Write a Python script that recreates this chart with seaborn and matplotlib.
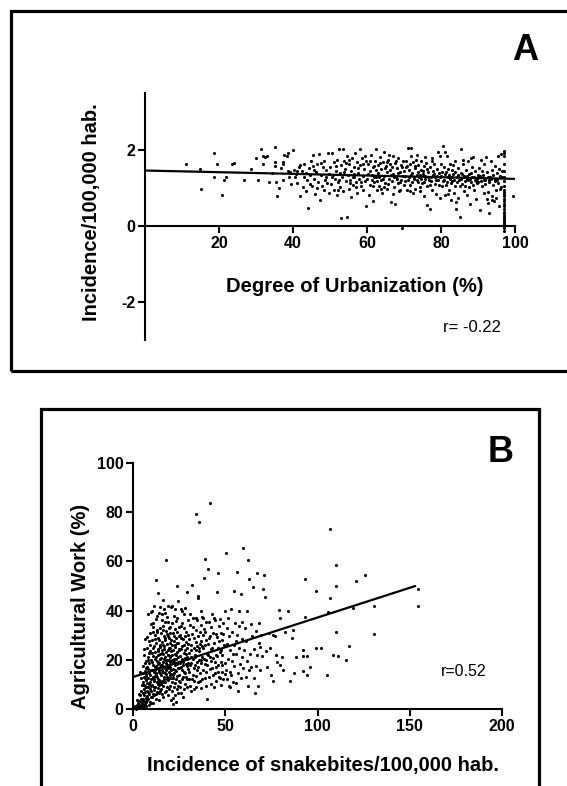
import matplotlib
matplotlib.use("Agg")
import matplotlib.pyplot as plt
from matplotlib.patches import Rectangle
import seaborn as sns
import pandas as pd

# ---------------- Panel A data: urbanization (%) vs incidence ----------------
urb_10_30 = [(11.1,1.62),(14.9,1.50),(15.2,0.97),(18.7,1.91),(19.4,1.64),(18.7,1.28),(20.9,0.81),
             (21.4,1.20),(22.0,1.28),(23.4,1.63),(24.1,1.65),(26.7,1.22),(28.6,1.50),(29.9,1.79)]
urb_30_40 = [(30.6,1.22),(31.4,2.03),(31.8,1.85),(32.4,1.82),(31.9,1.62),(32.9,1.85),(35.1,2.08),(35.0,1.68),
             (35.1,1.59),(35.3,1.17),(35.8,0.79),(36.2,0.99),(37.2,1.68),(37.2,1.62),(37.7,1.88),(38.3,1.84),
             (38.7,1.92),(39.9,1.99),(37.4,1.22),(38.6,1.45),(39.2,1.42),(39.5,1.10),(38.9,1.30),(36.8,1.52),
             (33.5,1.15),(34.2,1.40)]
urb_40_50 = [(40.3,1.48),(40.8,1.38),(41.2,1.12),(41.5,1.55),(41.9,0.78),(42.3,1.45),(42.6,1.02),(42.9,1.30),
             (43.1,1.62),(43.4,0.92),(43.8,1.20),(44.0,0.47),(44.2,1.52),(44.5,1.35),(44.8,1.70),(45.0,1.05),
             (45.3,1.88),(45.5,1.58),(45.8,1.25),(46.0,0.85),(46.3,1.42),(46.5,1.62),(46.8,1.15),(47.0,1.90),
             (47.2,0.68),(47.5,1.35),(47.8,1.05),(48.0,1.55),(48.3,0.95),(48.5,1.72),(48.8,1.28),(49.0,1.48),
             (49.2,1.12),(49.5,1.92),(49.8,0.88),(42.0,1.60),(43.5,1.40),(45.6,1.48),(46.6,1.00),(48.6,1.20),
             (40.5,1.28),(44.6,1.10),(47.6,1.65),(49.6,1.38),(41.0,1.45)]
urb_50_60 = [(50.1,1.55),(50.3,1.10),(50.5,1.92),(50.8,1.35),(51.0,0.95),(51.2,1.68),(51.4,1.25),(51.6,1.45),
             (51.8,0.82),(52.0,1.75),(52.2,1.15),(52.4,2.03),(52.6,1.40),(52.8,1.02),(53.0,0.22),(53.1,1.60),
             (53.3,1.28),(53.5,2.02),(53.6,0.92),(53.8,1.72),(54.0,1.50),(54.2,1.18),(54.5,0.23),(54.6,1.85),
             (54.8,1.35),(55.0,0.98),(55.2,1.62),(55.4,1.22),(55.6,0.76),(55.8,1.45),(56.0,1.80),(56.2,1.08),
             (56.4,1.55),(56.6,1.30),(56.8,1.92),(57.0,1.15),(57.2,1.68),(57.4,0.88),(57.6,1.40),(57.8,1.25),
             (58.0,2.02),(58.2,1.60),(58.4,1.05),(58.6,1.78),(58.8,1.32),(59.0,0.95),(59.2,1.50),(59.4,1.18),
             (59.6,0.52),(59.8,1.70),(50.6,1.30),(51.5,1.58),(52.5,1.22),(53.7,1.42),(54.4,1.65),(55.5,1.12),
             (56.5,1.38),(57.5,1.52),(58.5,1.15),(59.5,1.85),(55.1,1.75),(57.1,1.02),(52.1,0.95),(58.9,1.62),
             (56.1,1.28)]
urb_60_70 = [(60.1,1.25),(60.3,1.62),(60.5,0.82),(60.7,1.45),(60.9,1.08),(61.1,1.88),(61.3,1.35),(61.5,0.65),
             (61.7,1.55),(61.9,1.15),(62.1,1.72),(62.3,2.02),(62.5,1.28),(62.7,0.95),(62.9,1.60),(63.1,1.40),
             (63.3,1.05),(63.5,1.82),(63.7,1.22),(63.9,1.50),(64.1,0.88),(64.3,1.68),(64.5,1.32),(64.7,1.95),
             (64.9,1.12),(65.1,1.58),(65.3,1.42),(65.5,0.98),(65.7,1.75),(65.9,1.25),(66.1,1.48),(66.3,1.62),
             (66.5,0.62),(66.7,1.18),(66.9,1.85),(67.1,1.38),(67.3,1.02),(67.5,1.65),(67.7,0.58),(67.9,1.30),
             (68.1,1.52),(68.3,1.12),(68.5,1.78),(68.7,0.92),(68.9,1.42),(69.1,1.60),(69.3,1.20),(69.5,-0.05),
             (69.7,1.70),(69.9,1.08),(60.2,1.38),(60.8,1.70),(61.4,1.22),(61.8,1.30),(62.4,1.48),(62.8,1.18),
             (63.4,1.65),(63.8,0.98),(64.4,1.25),(64.8,1.52),(65.4,1.68),(65.8,1.10),(66.4,1.35),(66.8,1.55),
             (67.4,1.28),(67.8,1.72),(68.4,1.40),(68.8,1.15),(69.4,1.55),(69.8,1.32),(61.6,1.05),(63.2,1.28),
             (64.6,1.02),(66.0,1.88),(67.0,0.85),(68.0,1.25),(69.0,0.95),(62.0,1.58)]
urb_70_80 = [(70.1,1.45),(70.3,1.18),(70.5,1.72),(70.7,0.95),(70.9,1.58),(71.1,2.05),(71.3,1.30),(71.5,1.62),
             (71.7,1.08),(71.9,2.05),(72.1,1.40),(72.3,0.88),(72.5,1.68),(72.7,1.25),(72.9,1.52),(73.1,0.98),
             (73.3,1.75),(73.5,1.35),(73.7,1.15),(73.9,1.60),(74.1,1.28),(74.3,0.92),(74.5,1.48),(74.7,1.70),
             (74.9,1.12),(75.1,1.38),(75.3,1.58),(75.5,0.78),(75.7,1.25),(75.9,1.65),(76.1,1.05),(76.3,0.55),
             (76.5,1.42),(76.7,1.22),(76.9,0.45),(77.1,1.55),(77.3,1.18),(77.5,1.72),(77.7,0.95),(77.9,1.35),
             (78.1,1.62),(78.3,1.10),(78.5,1.28),(78.7,0.85),(78.9,1.50),(79.1,1.95),(79.3,1.22),(79.5,1.40),
             (79.7,0.75),(79.9,1.62),(70.2,1.32),(70.6,1.55),(71.0,1.20),(71.4,1.48),(71.8,1.35),(72.2,1.15),
             (72.6,1.30),(73.0,1.58),(73.4,1.22),(73.8,1.42),(74.2,1.35),(74.6,1.25),(75.0,1.45),(75.4,1.15),
             (75.8,1.32),(76.2,1.50),(76.6,1.30),(77.0,1.08),(77.4,1.28),(77.8,1.45),(78.2,1.38),(78.6,1.20),
             (79.0,1.32),(79.4,1.08),(79.8,1.28),(72.0,1.85),(73.6,1.88),(75.6,1.82),(77.6,1.78),(79.6,1.85),
             (71.6,0.92),(74.4,1.02)]
urb_80_90 = [(80.1,1.32),(80.3,1.05),(80.5,2.10),(80.7,1.55),(80.9,1.22),(81.1,0.82),(81.3,1.42),(81.5,1.85),
             (81.7,1.15),(81.9,1.30),(82.1,0.95),(82.3,1.62),(82.5,1.25),(82.7,0.68),(82.9,1.48),(83.1,1.18),
             (83.3,1.38),(83.5,0.88),(83.7,1.70),(83.9,1.05),(84.1,0.45),(84.3,1.28),(84.5,1.52),(84.7,0.75),
             (84.9,1.20),(85.1,0.25),(85.3,1.40),(85.5,2.02),(85.7,1.10),(85.9,1.62),(86.1,0.92),(86.3,1.32),
             (86.5,1.18),(86.7,1.48),(86.9,0.82),(87.1,1.25),(87.3,1.72),(87.5,1.02),(87.7,1.38),(87.9,0.58),
             (88.1,1.15),(88.3,1.55),(88.5,1.28),(88.7,1.82),(88.9,0.95),(89.1,1.22),(89.3,1.45),(89.5,0.70),
             (89.7,1.12),(89.9,1.35),(80.2,1.42),(80.6,1.18),(81.0,1.38),(81.4,1.08),(81.8,1.50),(82.2,1.35),
             (82.6,1.12),(83.0,1.30),(83.4,1.22),(83.8,1.42),(84.2,1.15),(84.6,1.35),(85.0,1.05),(85.4,1.25),
             (85.8,1.38),(86.2,1.28),(86.6,1.05),(87.0,1.32),(87.4,1.20),(87.8,1.25),(88.2,1.40),(88.6,1.08),
             (89.0,1.30),(89.4,1.18),(89.8,1.25),(81.2,1.95),(83.2,1.60),(86.0,1.75),(88.0,1.78),(84.0,0.62),
             (82.0,0.85)]
urb_90_100 = [(90.1,1.28),(90.3,1.52),(90.5,0.42),(90.7,1.18),(90.9,1.75),(91.1,1.05),(91.3,1.35),(91.5,0.88),
              (91.7,1.62),(91.9,1.22),(92.1,1.82),(92.3,0.72),(92.5,1.42),(92.7,0.60),(92.9,1.15),(93.1,0.35),
              (93.3,1.30),(93.5,1.70),(93.7,0.80),(93.9,1.48),(94.1,1.08),(94.3,0.65),(94.5,1.25),(94.7,1.58),
              (94.9,0.95),(95.1,1.40),(95.3,1.85),(95.5,1.12),(95.7,0.52),(95.9,1.32),(96.1,1.90),(96.3,1.02),
              (96.5,1.45),(96.0,0.98),(95.0,1.20),(94.0,1.35),(93.0,1.22),(92.0,1.10),(91.0,1.45),(90.0,1.15),
              (90.6,1.32),(91.6,1.20),(92.6,1.30),(93.6,1.25),(94.6,1.18),(95.6,1.50),(96.4,1.28),(92.8,0.90),
              (93.8,0.68),(94.8,0.75),(99.4,0.80)]
urb_col_97 = [(97.0,1.98),(96.9,1.92),(97.1,1.85),(97.0,1.62),(96.9,1.45),(97.0,1.30),(97.1,1.18),(97.0,1.05),
              (96.9,0.95),(97.0,0.90),(97.1,0.85),(97.0,0.78),(96.9,0.72),(97.0,0.65),(97.1,0.58),(97.0,0.52),
              (96.9,0.45),(97.0,0.38),(97.1,0.32),(97.0,0.27),(96.9,0.22),(97.0,0.18),(97.1,0.12),(97.0,0.08),
              (96.9,0.04),(97.0,0.00),(97.1,-0.05),(97.0,-0.14)]
# fitted line (start / end)
fit_a_x = [0, 100]
fit_a_y = [1.46, 1.24]

# ---------------- Panel B data: incidence vs agricultural work (%) ----------------
sb_00_05 = [(0.8,0.3),(1.2,0.8),(1.5,0.2),(1.9,1.5),(2.2,0.6),(2.5,2.4),(2.8,1.1),(3.0,0.4),(3.2,3.2),(3.5,1.8),
            (3.7,5.5),(3.9,0.9),(4.1,2.7),(4.3,7.2),(4.5,1.4),(4.6,4.1),(4.8,9.8),(4.9,3.0),(2.0,3.8),(3.4,6.0),
            (4.4,12.5),(4.0,15.0),(2.6,1.8),(1.0,1.2),(4.7,0.6)]
sb_05_10 = [(5.1,2.2),(5.2,6.5),(5.3,11.0),(5.4,0.8),(5.5,4.0),(5.6,17.5),(5.7,8.2),(5.8,1.5),(5.9,13.0),(6.0,3.3),
            (6.1,22.0),(6.2,5.6),(6.3,9.5),(6.4,2.0),(6.5,15.5),(6.6,7.0),(6.7,28.5),(6.8,4.5),(6.9,11.8),(7.0,19.5),
            (7.1,2.8),(7.2,8.8),(7.3,14.2),(7.4,5.2),(7.5,25.0),(7.6,10.5),(7.7,3.5),(7.8,17.0),(7.9,6.8),(8.0,38.5),
            (8.1,12.5),(8.2,4.0),(8.3,21.0),(8.4,9.0),(8.5,27.5),(8.6,1.8),(8.7,14.8),(8.8,6.0),(8.9,18.5),(9.0,11.0),
            (9.1,31.0),(9.2,3.0),(9.3,8.0),(9.4,23.5),(9.5,15.8),(9.6,5.0),(9.7,39.5),(9.8,12.0),(9.9,20.0),(10.0,7.5),
            (5.3,3.0),(6.3,12.8),(7.3,1.2),(8.3,16.2),(9.3,26.0),(5.8,9.8),(6.8,16.8),(7.8,7.5),(8.8,10.2),(9.8,2.5),
            (6.0,24.5),(7.0,13.5),(8.0,19.8),(9.0,14.0),(9.6,34.5),(8.5,22.8),(7.4,29.2),(6.6,18.8),(5.5,14.5),(9.9,9.2)]
sb_10_15 = [(10.1,4.8),(10.2,16.0),(10.3,28.0),(10.4,9.8),(10.5,40.0),(10.6,12.8),(10.7,21.5),(10.8,6.2),(10.9,33.5),(11.0,18.0),
            (11.1,2.5),(11.2,25.5),(11.3,11.2),(11.4,15.2),(11.5,42.0),(11.6,7.8),(11.7,20.2),(11.8,30.0),(11.9,13.5),(12.0,9.0),
            (12.1,23.0),(12.2,17.5),(12.3,36.5),(12.4,4.2),(12.5,14.0),(12.6,26.8),(12.7,52.5),(12.8,10.8),(12.9,19.5),(13.0,31.5),
            (13.1,6.8),(13.2,16.8),(13.3,24.2),(13.4,12.2),(13.5,47.0),(13.6,8.5),(13.7,21.8),(13.8,29.0),(13.9,15.0),(14.0,39.0),
            (14.1,3.5),(14.2,18.8),(14.3,11.8),(14.4,26.0),(14.5,14.5),(14.6,33.0),(14.7,7.2),(14.8,22.5),(14.9,17.2),(15.0,10.2),
            (10.4,22.8),(10.9,13.2),(11.4,8.8),(11.9,17.0),(12.4,21.2),(12.9,13.0),(13.4,18.2),(13.9,9.8),(14.4,20.5),(14.9,25.2),
            (10.6,31.5),(11.1,35.0),(11.6,12.0),(12.1,28.5),(12.6,6.0),(13.1,38.0),(13.6,23.5),(14.1,15.8),(14.6,11.0),(10.2,19.0),
            (11.3,5.5),(12.3,14.8),(13.3,10.0),(14.3,28.2),(14.8,41.5),(10.8,24.8),(11.8,16.0),(12.8,32.2),(13.8,19.0),(14.2,6.5)]
sb_15_20 = [(15.1,20.8),(15.2,13.8),(15.3,31.0),(15.4,8.2),(15.5,24.0),(15.6,17.8),(15.7,36.0),(15.8,11.5),(15.9,27.2),(16.0,4.8),
            (16.1,19.2),(16.2,15.2),(16.3,33.8),(16.4,22.2),(16.5,9.5),(16.6,29.5),(16.7,13.2),(16.8,40.5),(16.9,17.0),(17.0,25.8),
            (17.1,7.0),(17.2,21.0),(17.3,35.2),(17.4,14.5),(17.5,28.0),(17.6,11.0),(17.7,18.5),(17.8,60.6),(17.9,23.2),(18.0,31.8),
            (18.1,16.0),(18.2,9.0),(18.3,26.5),(18.4,19.8),(18.5,37.5),(18.6,13.0),(18.7,22.0),(18.8,5.5),(18.9,29.8),(19.0,17.5),
            (19.1,42.0),(19.2,11.8),(19.3,24.8),(19.4,20.0),(19.5,33.0),(19.6,8.0),(19.7,16.5),(19.8,27.0),(19.9,14.0),(20.0,21.5),
            (15.3,18.0),(15.8,22.8),(16.3,10.8),(16.8,20.2),(17.3,16.8),(17.8,14.2),(18.3,18.0),(18.8,23.8),(19.3,15.2),(19.8,19.0),
            (15.5,38.5),(16.0,26.2),(16.5,32.0),(17.0,12.2),(17.5,39.0),(18.0,7.5),(18.5,30.5),(19.0,35.5),(19.5,12.5),(20.0,25.0),
            (15.6,6.2),(16.6,24.5),(17.6,20.0),(18.6,16.5),(19.6,28.8),(16.2,44.5),(17.2,29.0),(18.2,12.0),(19.2,21.8),(15.9,15.8)]
sb_20_25 = [(20.1,9.5),(20.2,33.5),(20.3,17.0),(20.4,23.5),(20.5,3.5),(20.6,28.2),(20.7,14.2),(20.8,41.5),(20.9,19.5),(21.0,11.0),
            (21.1,26.0),(21.2,21.8),(21.3,7.2),(21.4,35.0),(21.5,16.2),(21.6,30.8),(21.7,12.8),(21.8,24.0),(21.9,2.0),(22.0,19.0),
            (22.1,38.0),(22.2,14.8),(22.3,27.5),(22.4,9.0),(22.5,22.5),(22.6,32.5),(22.7,17.8),(22.8,5.8),(22.9,25.2),(23.0,40.8),
            (23.1,12.0),(23.2,20.5),(23.3,29.0),(23.4,15.5),(23.5,35.8),(23.6,8.2),(23.7,23.2),(23.8,18.2),(23.9,31.2),(24.0,13.5),
            (24.1,50.0),(24.2,21.0),(24.3,6.5),(24.4,27.0),(24.5,44.0),(24.6,16.8),(24.7,33.2),(24.8,11.5),(24.9,24.5),(25.0,19.2),
            (20.3,21.0),(20.8,16.0),(21.3,19.8),(21.8,13.8),(22.3,20.2),(22.8,15.8),(23.3,22.0),(23.8,26.8),(24.3,18.8),(24.8,29.5),
            (20.5,12.5),(21.5,4.5),(22.5,10.5),(23.5,3.0),(24.5,9.5),(21.0,42.0),(22.0,29.8),(23.0,26.0),(24.0,37.0),(20.0,31.0)]
sb_25_30 = [(25.1,14.0),(25.3,30.2),(25.5,21.5),(25.7,8.8),(25.9,40.5),(26.1,17.2),(26.3,25.8),(26.5,12.2),(26.7,35.0),(26.9,19.8),
            (27.1,5.0),(27.3,28.5),(27.5,22.8),(27.7,15.0),(27.9,38.8),(28.1,10.2),(28.3,24.0),(28.5,18.2),(28.7,31.5),(28.9,13.0),
            (29.1,20.5),(29.3,9.0),(29.4,47.6),(29.6,26.5),(29.8,16.2),(30.0,36.0),(25.2,23.8),(25.6,18.8),(26.0,28.8),(26.4,20.2),
            (26.8,15.8),(27.2,19.2),(27.6,26.0),(28.0,20.8),(28.4,14.5),(28.8,22.2),(29.2,17.5),(29.6,30.2),(25.4,11.0),(25.8,33.8),
            (26.2,6.5),(26.6,40.0),(27.0,13.2),(27.4,33.0),(27.8,8.0),(28.2,41.0),(28.6,27.2),(29.0,12.0),(29.5,21.2),(29.9,18.8),
            (25.0,16.5),(26.0,24.5),(27.0,17.8),(28.0,29.5),(29.0,24.8)]
sb_30_40 = [(30.2,15.0),(30.5,22.8),(30.8,9.5),(31.0,34.0),(31.3,18.5),(31.5,26.2),(31.8,12.0),(32.1,50.5),(32.3,20.5),(32.6,37.0),
            (32.8,16.8),(33.0,8.0),(33.3,29.0),(33.5,22.0),(33.9,79.1),(34.0,13.5),(34.2,36.8),(34.5,19.0),(34.8,25.5),(35.0,10.8),
            (35.2,46.0),(35.2,45.0),(35.5,17.2),(35.8,75.9),(36.0,23.5),(36.2,31.5),(36.5,14.5),(36.8,27.8),(37.0,8.5),(37.3,21.2),
            (37.5,37.5),(37.8,16.0),(38.0,24.8),(38.3,32.5),(38.6,53.3),(38.9,61.0),(39.0,12.5),(39.3,19.8),(39.5,28.0),(39.8,35.5),
            (30.4,28.5),(30.9,18.0),(31.4,24.0),(31.9,30.5),(32.4,14.0),(32.9,25.0),(33.4,18.0),(33.9,32.0),(34.4,23.8),(34.9,15.8),
            (35.4,29.5),(35.9,20.0),(36.4,11.5),(36.9,34.2),(37.4,25.5),(37.9,30.0),(38.4,20.5),(38.9,18.2),(39.4,9.5),(39.9,22.5),
            (30.7,38.5),(31.6,7.2),(32.5,33.5),(33.2,11.5),(34.1,27.2),(34.7,36.0),(35.6,24.8),(36.6,18.5),(37.6,12.2),(38.2,37.0),
            (39.2,31.2),(39.7,15.2),(33.7,21.2),(36.3,26.5),(31.2,21.0),(37.1,20.0),(38.8,26.0),(30.1,12.0),(34.4,9.0),(36.9,40.0)]
sb_40_50 = [(40.1,4.1),(40.3,18.0),(40.5,56.8),(40.7,26.5),(41.0,13.2),(41.3,35.2),(41.5,83.9),(41.7,21.0),(42.0,29.5),(42.3,10.0),
            (42.5,24.2),(42.8,38.5),(43.0,16.5),(43.3,31.0),(43.5,20.8),(43.8,8.8),(44.0,27.0),(44.3,14.8),(44.5,36.0),(44.8,22.0),
            (45.0,11.2),(45.3,29.2),(45.6,47.6),(45.8,17.8),(46.0,25.0),(46.2,55.4),(46.4,33.8),(46.7,13.0),(47.0,23.0),(47.3,36.5),
            (47.5,19.2),(47.8,9.8),(48.0,28.0),(48.3,15.0),(48.5,21.8),(48.8,34.8),(49.0,12.2),(49.3,26.2),(49.6,18.5),(49.9,40.0),
            (40.6,22.0),(41.2,28.8),(41.8,16.2),(42.4,19.5),(43.0,24.8),(43.6,14.0),(44.2,19.0),(44.8,30.5),(45.4,21.5),(46.0,15.2),
            (46.6,27.8),(47.2,12.5),(47.8,24.0),(48.4,18.0),(49.0,30.5),(49.6,14.2),(42.2,33.5),(43.9,36.8),(45.1,17.0),(47.6,31.0)]
sb_50_60 = [(50.3,63.6),(50.5,16.0),(50.8,26.5),(51.0,12.0),(51.3,37.0),(51.6,20.5),(51.9,9.5),(52.2,29.5),(52.5,15.0),(52.8,23.8),
            (53.0,40.5),(53.3,13.8),(53.6,19.5),(53.9,31.5),(54.2,11.0),(54.5,26.0),(54.8,48.1),(55.0,17.5),(55.3,35.0),(55.6,10.5),
            (55.9,22.2),(56.2,55.7),(56.5,30.0),(56.8,14.5),(57.1,7.5),(57.4,25.0),(57.7,39.8),(58.0,18.2),(58.3,46.9),(58.6,12.8),
            (58.9,28.5),(59.2,21.0),(59.5,65.3),(59.8,16.8),(51.1,33.0),(52.6,9.0),(54.0,22.5),(55.8,27.8),(57.3,33.8),(59.0,35.5)]
sb_60_80 = [(60.2,24.0),(60.6,33.0),(61.0,13.0),(61.4,27.8),(61.8,19.5),(62.2,9.5),(62.6,60.6),(63.0,52.7),(63.4,22.5),(63.8,34.5),
            (64.2,17.0),(64.6,29.5),(65.0,49.7),(65.4,12.5),(65.8,24.5),(66.1,6.4),(66.5,31.8),(66.9,17.5),(67.1,55.3),(67.4,22.0),
            (67.7,9.3),(68.1,35.0),(68.5,27.0),(69.0,15.8),(69.5,30.2),(70.0,21.5),(70.6,48.6),(71.2,54.6),(71.8,45.7),(72.3,23.5),
            (72.8,17.2),(73.5,30.8),(74.2,25.0),(74.8,13.8),(75.7,30.0),(75.9,11.5),(76.7,29.7),(77.3,22.0),(78.0,19.0),(78.9,40.2),
            (79.5,37.1),(79.8,17.8),(61.6,40.0),(63.0,16.0),(68.8,25.2)]
sb_80_160 = [(80.5,21.2),(81.5,16.0),(82.6,31.2),(84.0,39.8),(85.1,11.4),(86.0,28.7),(86.5,32.1),(87.0,14.5),(88.3,21.1),(92.0,23.8),
             (92.0,21.5),(92.0,15.3),(93.0,37.3),(93.3,52.8),(94.2,21.4),(94.2,13.8),(95.9,17.2),(99.2,47.8),(99.2,24.9),(102.0,24.9),
             (105.0,13.7),(105.7,39.6),(107.0,73.3),(107.0,45.0),(108.2,22.0),(110.0,58.5),(110.0,50.0),(110.0,31.2),(111.2,21.7),(115.3,19.9),
             (117.0,25.7),(119.4,41.2),(120.7,52.0),(125.6,54.5),(130.7,42.0),(130.7,30.5),(154.4,48.6),(154.6,41.9)]
fit_b_x = [0, 153]
fit_b_y = [13.0, 50.0]

# ---------------- texts ----------------
label_a_x = "Degree of Urbanization (%)"
label_a_y = "Incidence/100,000 hab."
label_b_x = "Incidence of snakebites/100,000 hab."
label_b_y = "Agricultural Work (%)"
r_a = "r= -0.22"
r_b = "r=0.52"
ticks_a_x = [20, 40, 60, 80, 100]
ticks_a_y = [-2, 0, 2]
ticks_b_x = [0, 50, 100, 150, 200]
ticks_b_y = [0, 20, 40, 60, 80, 100]

# ---------------- build frames ----------------
def frame(groups, xname, yname):
    pts = [p for g in groups for p in g]
    return pd.DataFrame(pts, columns=[xname, yname])

df_a = frame([urb_10_30, urb_30_40, urb_40_50, urb_50_60, urb_60_70, urb_70_80,
              urb_80_90, urb_90_100, urb_col_97], "urb", "inc")
df_b = frame([sb_00_05, sb_05_10, sb_10_15, sb_15_20, sb_20_25, sb_25_30, sb_30_40,
              sb_40_50, sb_50_60, sb_60_80, sb_80_160], "inc", "agri")

sns.set_theme(style="ticks")
plt.rcParams["font.family"] = ["Liberation Sans", "DejaVu Sans"]
plt.rcParams.update({
    "text.color": "black", "axes.labelcolor": "black", "axes.edgecolor": "black",
    "xtick.color": "black", "ytick.color": "black", "axes.unicode_minus": False,
})

W, H = 567, 786
fig = plt.figure(figsize=(W / 100, H / 100), dpi=100)

def fx(px): return px / W
def fy(py): return 1 - py / H

LW = 1.5
TICKFS = 11.5
LABFS = 14.5

# ---------------- Panel A ----------------
axA = fig.add_axes([fx(145), fy(340), (515 - 145) / W, (340 - 93) / H])
sns.scatterplot(data=df_a, x="urb", y="inc", ax=axA, s=5, color="black",
                linewidth=0, marker="o", legend=False, zorder=3)
sns.lineplot(x=fit_a_x, y=fit_a_y, ax=axA, color="black", linewidth=1.6, zorder=4)
axA.set_xlim(0, 100)
axA.set_ylim(-3, 3.5)
axA.spines["top"].set_visible(False)
axA.spines["right"].set_visible(False)
axA.spines["bottom"].set_position(("data", 0))
for s in ("left", "bottom"):
    axA.spines[s].set_linewidth(LW)
axA.set_xticks(ticks_a_x)
axA.set_yticks(ticks_a_y)
axA.tick_params(direction="out", length=5, width=LW, labelsize=TICKFS, pad=2)
for t in axA.get_xticklabels() + axA.get_yticklabels():
    t.set_fontweight("bold")
axA.set_xlabel(label_a_x, fontsize=LABFS, fontweight="bold")
axA.set_ylabel(label_a_y, fontsize=LABFS, fontweight="bold")
axA.xaxis.set_label_coords((355 - 145) / 370, (340 - 287) / 247)
axA.xaxis.label.set_va("center")
axA.yaxis.set_label_coords((92 - 145) / 370, (340 - 212) / 247)
axA.yaxis.label.set_va("center")
axA.patch.set_alpha(0)

# ---------------- Panel B ----------------
axB = fig.add_axes([fx(133), fy(709), (502 - 133) / W, (709 - 463) / H])
sns.scatterplot(data=df_b, x="inc", y="agri", ax=axB, s=5, color="black",
                linewidth=0, marker="o", legend=False, zorder=3, clip_on=False)
sns.lineplot(x=fit_b_x, y=fit_b_y, ax=axB, color="black", linewidth=1.6, zorder=4)
axB.set_xlim(0, 200)
axB.set_ylim(0, 100)
axB.spines["top"].set_visible(False)
axB.spines["right"].set_visible(False)
for s in ("left", "bottom"):
    axB.spines[s].set_linewidth(LW)
axB.set_xticks(ticks_b_x)
axB.set_yticks(ticks_b_y)
axB.tick_params(direction="out", length=5, width=LW, labelsize=TICKFS, pad=2)
for t in axB.get_xticklabels() + axB.get_yticklabels():
    t.set_fontweight("bold")
axB.set_xlabel(label_b_x, fontsize=LABFS, fontweight="bold")
axB.set_ylabel(label_b_y, fontsize=LABFS, fontweight="bold")
axB.xaxis.set_label_coords((323 - 133) / 369, (709 - 766) / 246)
axB.xaxis.label.set_va("center")
axB.yaxis.set_label_coords((81 - 133) / 369, (709 - 606) / 246)
axB.yaxis.label.set_va("center")
axB.patch.set_alpha(0)

# ---------------- annotations ----------------
fig.text(fx(443), fy(327), r_a, fontsize=12, ha="left", va="center")
fig.text(fx(441), fy(672), r_b, fontsize=11.5, ha="left", va="center")
fig.text(fx(525), fy(50), "A", fontsize=26, fontweight="bold", ha="center", va="center")
fig.text(fx(501), fy(453), "B", fontsize=26, fontweight="bold", ha="center", va="center")

# ---------------- panel frames ----------------
fig.add_artist(Rectangle((fx(11), fy(371)), (590 - 11) / W, (371 - 11) / H,
                         transform=fig.transFigure, fill=False, lw=2.3,
                         edgecolor="black", clip_on=False))
fig.add_artist(Rectangle((fx(41), fy(810)), (539 - 41) / W, (810 - 409) / H,
                         transform=fig.transFigure, fill=False, lw=2.3,
                         edgecolor="black", clip_on=False))

fig.savefig("out.png", dpi=100)
